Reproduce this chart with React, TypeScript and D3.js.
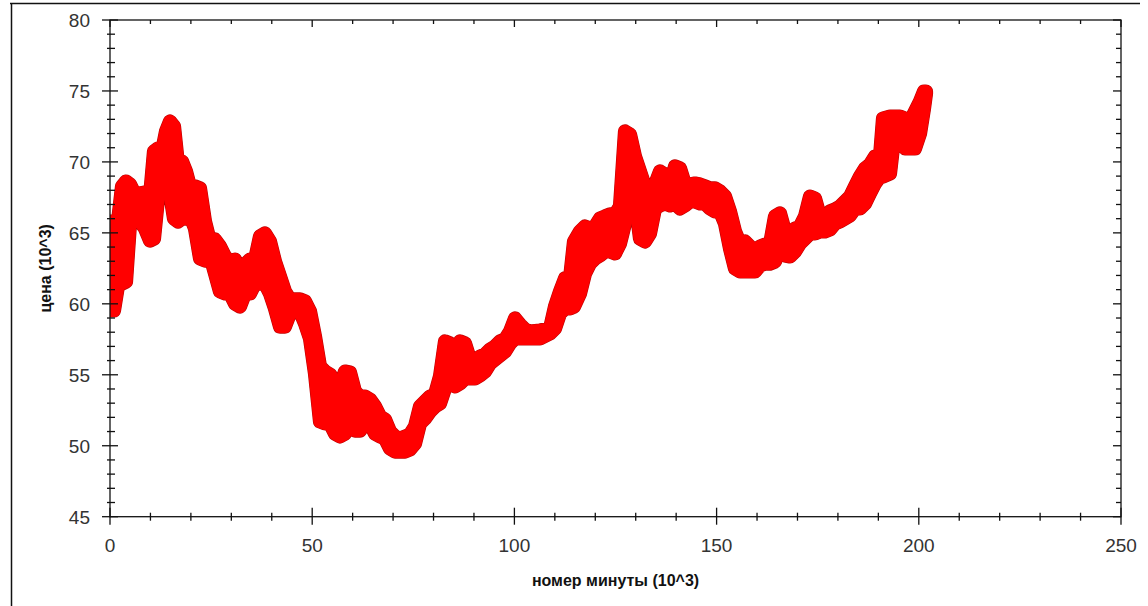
import React from "react";
import * as d3 from "d3";

// Minute index (thousands) with the low / high price (thousands) reached around it
const minutes = [
  0, 0.99, 1.98, 2.97, 3.96, 4.95, 5.93, 7.42, 8.65, 9.89, 10.88, 11.87, 12.86, 13.85, 14.84, 15.83,
  16.82, 17.8, 18.79, 19.78, 21.02, 22.26, 23.49, 24.73, 25.96, 27.2, 28.44, 29.67, 30.91, 32.15,
  33.38, 34.62, 35.86, 37.09, 38.33, 39.56, 40.8, 42.04, 43.27, 44.51, 45.75, 46.98, 48.22, 49.46,
  50.69, 51.93, 53.17, 54.4, 55.64, 56.87, 58.11, 59.35, 60.58, 61.82, 63.06, 64.29, 65.53, 66.77,
  68.0, 69.24, 70.47, 71.71, 72.95, 74.18, 75.42, 76.66, 77.89, 79.13, 80.37, 81.6, 82.84, 84.07,
  85.31, 86.55, 87.78, 89.02, 90.26, 91.49, 92.73, 93.97, 95.2, 96.44, 97.68, 98.91, 100.15, 101.38,
  102.62, 103.86, 106.33, 108.8, 110.04, 111.28, 112.51, 113.75, 114.74, 116.22, 117.46, 118.69,
  119.93, 121.17, 122.4, 123.64, 124.88, 126.11, 127.35, 128.59, 129.82, 131.06, 132.29, 133.53,
  134.77, 136.0, 137.24, 138.48, 139.71, 140.95, 142.19, 143.42, 144.66, 145.9, 147.13, 148.37,
  149.6, 150.84, 152.08, 153.31, 154.55, 155.79, 157.02, 158.26, 159.5, 160.73, 161.97, 163.2,
  164.44, 165.68, 166.91, 168.15, 169.39, 170.62, 171.86, 173.1, 174.33, 175.57, 176.8, 178.04,
  179.28, 180.51, 181.75, 182.99, 184.22, 185.46, 186.7, 187.93, 189.17, 190.41, 191.15, 192.88,
  193.87, 195.35, 196.59, 197.82, 199.06, 200.3, 201.29, 201.78,
];

const highs = [
  65.8, 65.8, 65.8, 68.27, 68.62, 68.41, 67.85, 67.78, 67.85, 67.56, 70.74, 70.95, 70.74, 72.15,
  72.85, 72.5, 69.82, 70.03, 69.33, 68.27, 68.27, 68.13, 65.8, 64.39, 64.53, 64.04, 63.34, 62.98,
  63.12, 62.28, 62.77, 63.12, 63.12, 64.75, 64.96, 64.39, 62.98, 61.93, 60.87, 60.31, 60.31, 60.31,
  60.17, 59.46, 57.7, 55.58, 55.23, 55.02, 54.53, 54.18, 55.23, 55.16, 53.82, 53.47, 53.47, 53.26,
  52.77, 52.06, 51.85, 51.0, 50.65, 50.51, 50.65, 50.79, 51.36, 52.77, 53.12, 53.47, 53.61, 54.88,
  57.35, 57.21, 56.29, 57.35, 57.21, 56.08, 55.94, 56.29, 56.43, 56.78, 56.99, 57.35, 57.49, 58.05,
  58.97, 58.54, 58.19, 58.05, 58.12, 58.26, 59.81, 60.87, 61.79, 61.79, 64.39, 65.1, 65.45, 65.31,
  65.45, 66.01, 66.16, 66.3, 66.3, 66.86, 72.15, 71.93, 70.38, 69.33, 68.27, 68.13, 68.41, 69.33,
  69.11, 68.27, 69.68, 69.54, 68.41, 68.41, 68.48, 68.41, 68.27, 68.13, 68.13, 67.92, 67.56, 66.51,
  65.1, 64.25, 64.39, 64.04, 63.69, 64.04, 64.18, 64.18, 66.16, 66.37, 65.1, 64.89, 65.31, 65.45,
  66.16, 67.56, 67.42, 66.16, 66.01, 66.51, 66.65, 66.86, 67.21, 67.56, 68.27, 68.97, 69.54, 69.82,
  70.38, 70.38, 73.06, 73.2, 73.2, 73.2, 73.06, 72.85, 73.55, 74.26, 74.96, 74.96,
];

const lows = [
  59.53, 59.53, 61.29, 61.43, 61.57, 65.66, 65.8, 65.8, 65.31, 64.46, 64.6, 67.42, 67.99, 68.83,
  67.78, 66.01, 65.8, 66.01, 66.01, 66.23, 65.31, 63.2, 63.05, 63.41, 62.14, 60.87, 60.73, 60.73,
  60.02, 59.81, 60.73, 60.73, 61.43, 61.43, 61.43, 60.73, 59.67, 58.4, 58.4, 59.32, 59.46, 59.46,
  58.61, 57.56, 55.09, 51.71, 51.57, 51.57, 50.86, 50.65, 50.86, 51.92, 51.07, 51.07, 51.57, 51.57,
  50.86, 50.65, 50.51, 49.81, 49.59, 49.59, 49.59, 49.74, 50.16, 51.57, 51.92, 52.41, 52.77, 52.98,
  54.03, 54.74, 54.18, 54.39, 54.74, 54.74, 54.74, 54.95, 55.23, 55.8, 56.08, 56.36, 56.64, 57.21,
  57.56, 57.56, 57.56, 57.56, 57.56, 57.91, 58.26, 59.32, 59.67, 59.67, 59.81, 60.73, 62.14, 62.84,
  63.2, 63.41, 63.69, 63.69, 63.55, 64.25, 65.66, 69.19, 67.42, 64.6, 64.39, 64.96, 66.72, 66.93,
  67.07, 66.93, 67.07, 66.72, 66.93, 67.21, 67.21, 67.07, 67.07, 66.72, 66.51, 66.51, 65.66, 63.9,
  62.49, 62.28, 62.28, 62.28, 62.28, 62.7, 62.84, 62.84, 62.98, 63.9, 63.41, 63.34, 63.69, 64.25,
  64.6, 64.96, 64.96, 65.1, 65.1, 65.24, 65.66, 65.8, 66.01, 66.23, 66.72, 66.72, 67.07, 67.78,
  68.48, 68.97, 68.97, 69.19, 71.65, 71.44, 70.95, 70.95, 70.95, 72.0, 73.77, 74.82,
];

const xTickValues = [0, 50, 100, 150, 200, 250];
const yTickValues = [45, 50, 55, 60, 65, 70, 75, 80];
const xLabel = "номер минуты (10^3)";
const yLabel = "цена (10^3)";

const W = 1148;
const H = 606;
const PL = 110;
const PR = 1121;
const PT = 20;
const PB = 516.7;
const MARKER = 13; // diameter of the circle markers

export default function App() {
  const x = d3.scaleLinear().domain([0, 250]).range([PL, PR]);
  const y = d3.scaleLinear().domain([45, 80]).range([PB, PT]);

  const rows = minutes.map((m, i) => ({ m, lo: lows[i], hi: highs[i] }));
  const area = d3
    .area<{ m: number; lo: number; hi: number }>()
    .x((d) => x(d.m))
    .y0((d) => y(d.lo))
    .y1((d) => y(d.hi));
  const bandD = area(rows) || "";

  const xMinor = d3.range(0, 251, 10);
  const yMinor = d3.range(45, 81, 1);
  const font = "'Liberation Sans', Arial, sans-serif";
  const axisColor = "#111";

  return (
    <svg
      width={W}
      height={H}
      style={{ position: "absolute", left: 0, top: 0, background: "#fff" }}
    >
      <defs>
        <clipPath id="plotClip">
          <rect x={PL} y={PT - 10} width={PR - PL} height={PB - PT + 10} />
        </clipPath>
      </defs>

      {/* window frame */}
      <line x1={10} x2={1140} y1={3.5} y2={3.5} stroke="#111" strokeWidth={1.5} />
      <line x1={11.5} x2={11.5} y1={3} y2={H} stroke="#111" strokeWidth={1.5} />

      {/* price band drawn from the circle markers' envelope */}
      <g clipPath="url(#plotClip)">
        <path
          d={bandD}
          fill="#d00000"
          stroke="#c00000"
          strokeWidth={MARKER + 1.2}
          strokeLinejoin="round"
        />
        <path
          d={bandD}
          fill="#ff0000"
          stroke="#ff0000"
          strokeWidth={MARKER}
          strokeLinejoin="round"
        />
      </g>

      {/* plot frame */}
      <rect
        x={PL}
        y={PT}
        width={PR - PL}
        height={PB - PT}
        fill="none"
        stroke={axisColor}
        strokeWidth={1.3}
      />

      {/* bottom & top ticks */}
      {xMinor.map((v) => {
        const major = v % 50 === 0;
        const px = x(v);
        return (
          <g key={"xt" + v}>
            <line
              x1={px}
              x2={px}
              y1={PB - (major ? 9 : 4)}
              y2={PB + (major ? 8 : 4)}
              stroke={axisColor}
              strokeWidth={1.3}
            />
            <line
              x1={px}
              x2={px}
              y1={PT}
              y2={PT + (major ? 7 : 4)}
              stroke={axisColor}
              strokeWidth={1.3}
            />
          </g>
        );
      })}

      {/* left & right ticks */}
      {yMinor.map((v) => {
        const major = v % 5 === 0;
        const py = y(v);
        return (
          <g key={"yt" + v}>
            <line
              x1={PL - (major ? 8 : 3)}
              x2={PL + (major ? 8 : 5)}
              y1={py}
              y2={py}
              stroke={axisColor}
              strokeWidth={1.3}
            />
            <line
              x1={PR - (major ? 8 : 5)}
              x2={PR}
              y1={py}
              y2={py}
              stroke={axisColor}
              strokeWidth={1.3}
            />
          </g>
        );
      })}

      {/* tick labels */}
      {xTickValues.map((v) => (
        <text
          key={"xl" + v}
          x={x(v)}
          y={552}
          textAnchor="middle"
          fontFamily={font}
          fontSize={19}
          fill="#333"
        >
          {v}
        </text>
      ))}
      {yTickValues.map((v) => (
        <text
          key={"yl" + v}
          x={90}
          y={y(v) + 7}
          textAnchor="end"
          fontFamily={font}
          fontSize={19}
          fill="#333"
        >
          {v}
        </text>
      ))}

      {/* axis titles */}
      <text
        x={(PL + PR) / 2}
        y={586}
        textAnchor="middle"
        fontFamily={font}
        fontSize={16}
        fontWeight="bold"
        fill="#111"
      >
        {xLabel}
      </text>
      <text
        transform={`translate(51, ${(PT + PB) / 2}) rotate(-90)`}
        textAnchor="middle"
        fontFamily={font}
        fontSize={16}
        fontWeight="bold"
        fill="#111"
      >
        {yLabel}
      </text>
    </svg>
  );
}
